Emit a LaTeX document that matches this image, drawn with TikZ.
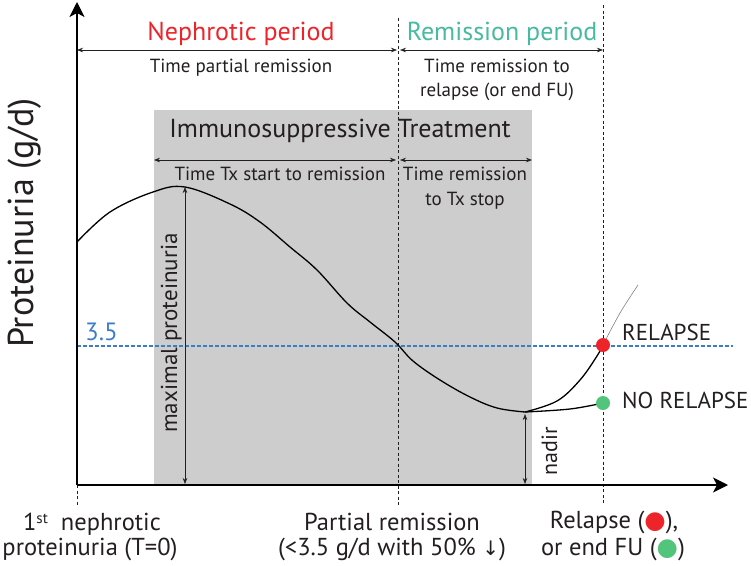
\documentclass[tikz,border=0pt]{standalone}
\usepackage{fontspec}
\setmainfont{PT Sans}
\newfontfamily\symfont{DejaVu Sans}
\usetikzlibrary{arrows.meta}
\definecolor{nred}{RGB}{237,36,42}
\definecolor{nteal}{RGB}{72,186,160}
\definecolor{nblue}{RGB}{60,125,200}
\definecolor{ngreen}{RGB}{82,196,124}
\definecolor{ngray}{RGB}{205,205,205}
\definecolor{ink}{RGB}{35,31,32}
\tikzset{
  lbl/.style={text=ink, inner sep=0pt, anchor=base, font=\fontsize{19}{24}\selectfont},
  big/.style={inner sep=0pt, anchor=base, font=\fontsize{26}{28}\selectfont},
  bot/.style={text=ink, inner sep=0pt, anchor=base, font=\fontsize{24.5}{26}\selectfont},
  side/.style={text=ink, inner sep=0pt, anchor=base west, font=\fontsize{23}{26}\selectfont},
  dim/.style={draw=ink, line width=0.6pt, {Stealth[length=6pt,width=4.5pt]}-{Stealth[length=6pt,width=4.5pt]}},
  vdash/.style={draw=ink, line width=0.8pt, dash pattern=on 3pt off 2.5pt},
  axis/.style={draw=black, line width=1.2pt, -{Stealth[length=15pt,width=15pt,inset=4pt]}},
  dot/.style={circle, inner sep=0pt, minimum size=14pt},
}
\begin{document}
\begin{tikzpicture}[x=1pt,y=-1pt]
\useasboundingbox (0,0) rectangle (751,565);
% treatment box
\fill[ngray] (154,110) rectangle (532,485);
\node[inner sep=0pt, anchor=base, text=ink, font=\fontsize{26}{28}\selectfont] (tx) at (340,137) {Immunosuppressive Treatment};

% coordinates
\coordinate (O) at (77,485);
\coordinate (ytop) at (77,2);
\coordinate (xend) at (728,485);
\coordinate (rt) at (398,18);
\coordinate (rb) at (398,505);
\coordinate (et) at (603,5);
\coordinate (eb) at (603,505);
\coordinate (ob) at (77,505);
\coordinate (a1) at (77,50);
\coordinate (a2) at (397,50);
\coordinate (a3) at (400,50);
\coordinate (a4) at (603,50);
\coordinate (b1) at (154,160);
\coordinate (b2) at (396,160);
\coordinate (b3) at (400,160);
\coordinate (b4) at (532,160);
\coordinate (m1) at (185,187);
\coordinate (m2) at (185,484);
\coordinate (n1) at (525,414);
\coordinate (n2) at (525,484);
\coordinate (t0) at (77,346);
\coordinate (t1) at (733,346);

% dashed verticals
\draw[vdash] (rt) -- (rb);
\draw[vdash] (et) -- (eb);
\draw[vdash] (O) -- (ob);

% 3.5 threshold
\draw[nblue, line width=1.4pt, dash pattern=on 3.5pt off 2.5pt] (t0) -- (t1);
\node[text=nblue, inner sep=0pt, font=\fontsize{25}{26}\selectfont, anchor=base west] (th) at (85,340) {3.5};

% curve
\draw[black, line width=1.3pt] plot[smooth, tension=0.6] coordinates {(77,242) (110,212) (153,192) (185,187) (230,204) (260,222) (290,247) (317,270) (347,303) (370,322) (395,342) (413,361) (440,380) (470,397) (497,408) (525,412)};
\draw[black, line width=1.3pt] plot[smooth, tension=0.6] coordinates {(525,412) (557,401) (580,380) (597,356) (603,345)};
\draw[gray, line width=0.6pt] plot[smooth, tension=0.6] coordinates {(603,345) (620,313) (638,285)};
\draw[black, line width=1.3pt] plot[smooth, tension=0.6] coordinates {(525,412) (570,409) (603,403)};
\node[dot, fill=nred] (rd) at (603,345) {};
\node[dot, fill=ngreen] (gd) at (603,403) {};
\node[side] (rel) at (622,340) {RELAPSE};
\node[side] (nrel) at (622,408) {NO RELAPSE};

% axes
\draw[axis] (O) -- (ytop);
\draw[axis] (O) -- (xend);

% top arrows
\draw[dim] (a1) -- (a2);
\draw[dim] (a3) -- (a4);
\node[big, text=nred] (np) at (241,40) {Nephrotic period};
\node[big, text=nteal] (rp) at (502,40) {Remission period};
\node[lbl] (tpr) at (241,72) {Time partial remission};
\node[lbl] (trr) at (497,72) {Time remission to};
\node[lbl] (trr2) at (497,96) {relapse (or end FU)};

% treatment arrows
\draw[dim] (b1) -- (b2);
\draw[dim] (b3) -- (b4);
\node[lbl] (tsr) at (280,180) {Time Tx start to remission};
\node[lbl] (trs) at (465,180) {Time remission};
\node[lbl] (trs2) at (465,205) {to Tx stop};

% maximal proteinuria / nadir
\draw[dim] (m1) -- (m2);
\node[text=ink, inner sep=0pt, anchor=base, rotate=90, font=\fontsize{23}{24}\selectfont] (mp) at (177,333) {maximal proteinuria};
\draw[dim] (n1) -- (n2);
\node[text=ink, inner sep=0pt, anchor=base, rotate=90, font=\fontsize{22}{24}\selectfont] (nd) at (557,451) {nadir};

% y label
\node[inner sep=0pt, text=ink, anchor=base, rotate=90, font=\fontsize{36}{38}\selectfont] (yl) at (33,223) {Proteinuria (g/d)};

% bottom labels
\node[bot] (l0) at (92,530) {1\raisebox{0.55ex}{\fontsize{15}{15}\selectfont st}\ \ nephrotic};
\node[bot] (l0b) at (90,555) {proteinuria (T=0)};
\node[bot] (l1) at (392,530) {Partial remission};
\node[bot] (l1b) at (392,555) {(<3.5 g/d with 50\% {\symfont\fontsize{20}{20}\selectfont ↓})};
\node[bot] (l2) at (614,528) {Relapse ({\symfont\textcolor{nred}{●}}),};
\node[bot] (l2b) at (613,555) {or end FU ({\symfont\textcolor{ngreen}{●}})};
\end{tikzpicture}
\end{document}
